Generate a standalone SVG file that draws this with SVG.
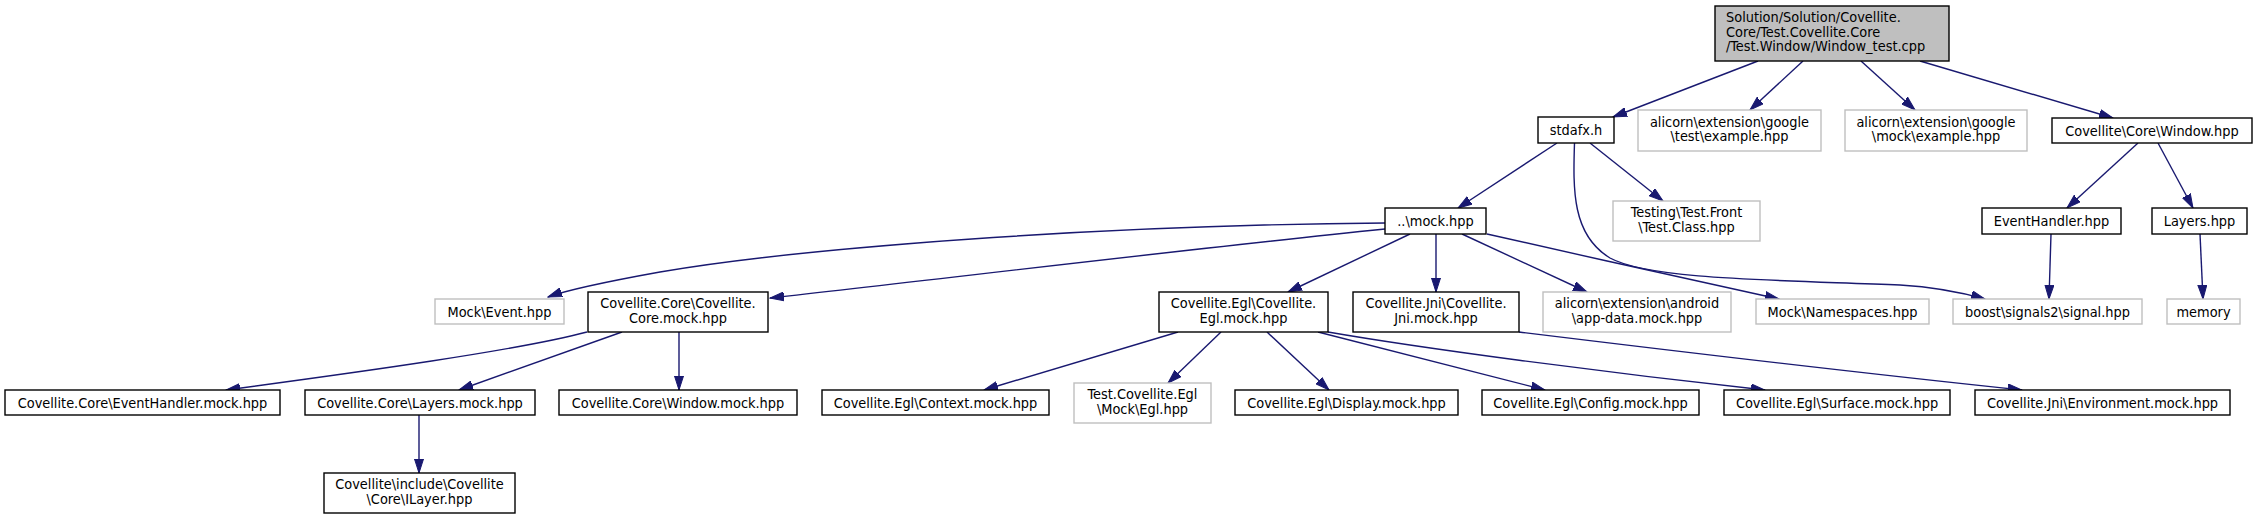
<svg xmlns="http://www.w3.org/2000/svg" width="2257" height="520" viewBox="0 0 2257 520">
<defs>
<marker id="arr" markerWidth="15" markerHeight="10" refX="14" refY="5" orient="auto" markerUnits="userSpaceOnUse"><path d="M0,0.5 L14,5 L0,9.5 z" fill="#191970" stroke="#191970" stroke-width="1"/></marker>
</defs>
<style>
.n rect{fill:#ffffff;stroke:#000000;stroke-width:1.4}
.g rect{fill:#ffffff;stroke:#bfbfbf;stroke-width:1.4}
.r rect{fill:#bfbfbf;stroke:#000000;stroke-width:1.4}
text{font-family:"DejaVu Sans Condensed","DejaVu Sans","Liberation Sans",sans-serif;font-stretch:condensed;font-size:14.4px;fill:#000000;text-anchor:middle}
.r text{text-anchor:start}
#edges path{fill:none;stroke:#191970;stroke-width:1.4;marker-end:url(#arr)}
</style>
<rect width="2257" height="520" fill="#ffffff"/>
<g id="edges">
<path d="M1758,61 L1613,117"/>
<path d="M1803,61 L1750,110"/>
<path d="M1861,61 L1915,110"/>
<path d="M1920,61 L2113,118"/>
<path d="M1557,143 L1458,208"/>
<path d="M1590,143 L1663,201"/>
<path d="M1574.5,143 C1573,190 1572,235 1610,258 C1650,280 1780,280 1900,285 C1935,287 1960,292 1985,299"/>
<path d="M2138,143 L2067,208"/>
<path d="M2158,143 L2193,208"/>
<path d="M2051,234 L2049,299"/>
<path d="M2200,234 L2203,299"/>
<path d="M1385,223 C1100,225 800,248 660,272 C610,281 570,289 548,297"/>
<path d="M1385,229 C1180,250 950,278 770,298"/>
<path d="M1410,234 L1288,292"/>
<path d="M1436,234 L1436,292"/>
<path d="M1462,234 L1587,292"/>
<path d="M1487,234 C1580,255 1700,282 1779,299"/>
<path d="M587,332 C520,350 360,372 226,390"/>
<path d="M622,332 L459,390"/>
<path d="M679,332 L679,390"/>
<path d="M419,415 L419,473"/>
<path d="M1178,332 L984,390"/>
<path d="M1221,332 L1168,383"/>
<path d="M1267,332 L1329,390"/>
<path d="M1318,332 L1545,390"/>
<path d="M1328,332 C1420,348 1600,372 1765,390"/>
<path d="M1519,332 C1650,348 1850,372 2022,390"/>
</g>
<g id="root" class="r"><rect x="1715" y="6" width="234" height="55"/><text x="1726" y="22">Solution/Solution/Covellite.</text><text x="1726" y="36.5">Core/Test.Covellite.Core</text><text x="1726" y="51">/Test.Window/Window_test.cpp</text></g>
<g id="stdafx" class="n"><rect x="1538" y="117" width="76" height="26"/><text x="1576" y="135">stdafx.h</text></g>
<g id="gtest" class="g"><rect x="1638" y="110" width="183" height="41"/><text x="1729.5" y="126.5">alicorn\extension\google</text><text x="1729.5" y="141">\test\example.hpp</text></g>
<g id="gmock" class="g"><rect x="1845" y="110" width="182" height="41"/><text x="1936" y="126.5">alicorn\extension\google</text><text x="1936" y="141">\mock\example.hpp</text></g>
<g id="window" class="n"><rect x="2052" y="118" width="200" height="25"/><text x="2152" y="135.5">Covellite\Core\Window.hpp</text></g>
<g id="mock" class="n"><rect x="1385" y="208" width="101" height="26"/><text x="1435.5" y="226">..\mock.hpp</text></g>
<g id="testing" class="g"><rect x="1613" y="201" width="147" height="40"/><text x="1686.5" y="217">Testing\Test.Front</text><text x="1686.5" y="231.5">\Test.Class.hpp</text></g>
<g id="eventhandler" class="n"><rect x="1982" y="208" width="139" height="26"/><text x="2051.5" y="226">EventHandler.hpp</text></g>
<g id="layers" class="n"><rect x="2152" y="208" width="95" height="26"/><text x="2199.5" y="226">Layers.hpp</text></g>
<g id="mockevent" class="g"><rect x="435" y="299" width="129" height="25"/><text x="499.5" y="316.5">Mock\Event.hpp</text></g>
<g id="coremock" class="n"><rect x="588" y="292" width="180" height="40"/><text x="678" y="308">Covellite.Core\Covellite.</text><text x="678" y="322.5">Core.mock.hpp</text></g>
<g id="eglmock" class="n"><rect x="1159" y="292" width="169" height="40"/><text x="1243.5" y="308">Covellite.Egl\Covellite.</text><text x="1243.5" y="322.5">Egl.mock.hpp</text></g>
<g id="jnimock" class="n"><rect x="1353" y="292" width="166" height="40"/><text x="1436" y="308">Covellite.Jni\Covellite.</text><text x="1436" y="322.5">Jni.mock.hpp</text></g>
<g id="android" class="g"><rect x="1543" y="292" width="188" height="40"/><text x="1637" y="308">alicorn\extension\android</text><text x="1637" y="322.5">\app-data.mock.hpp</text></g>
<g id="namespaces" class="g"><rect x="1756" y="299" width="173" height="25"/><text x="1842.5" y="316.5">Mock\Namespaces.hpp</text></g>
<g id="boost" class="g"><rect x="1953" y="299" width="189" height="25"/><text x="2047.5" y="316.5">boost\signals2\signal.hpp</text></g>
<g id="memory" class="g"><rect x="2167" y="299" width="73" height="25"/><text x="2203.5" y="316.5">memory</text></g>
<g id="ehmock" class="n"><rect x="5" y="390" width="275" height="25"/><text x="142.5" y="407.5">Covellite.Core\EventHandler.mock.hpp</text></g>
<g id="layersmock" class="n"><rect x="305" y="390" width="230" height="25"/><text x="420" y="407.5">Covellite.Core\Layers.mock.hpp</text></g>
<g id="windowmock" class="n"><rect x="559" y="390" width="238" height="25"/><text x="678" y="407.5">Covellite.Core\Window.mock.hpp</text></g>
<g id="context" class="n"><rect x="822" y="390" width="227" height="25"/><text x="935.5" y="407.5">Covellite.Egl\Context.mock.hpp</text></g>
<g id="testegl" class="g"><rect x="1074" y="383" width="137" height="40"/><text x="1142.5" y="399">Test.Covellite.Egl</text><text x="1142.5" y="413.5">\Mock\Egl.hpp</text></g>
<g id="display" class="n"><rect x="1235" y="390" width="223" height="25"/><text x="1346.5" y="407.5">Covellite.Egl\Display.mock.hpp</text></g>
<g id="config" class="n"><rect x="1482" y="390" width="217" height="25"/><text x="1590.5" y="407.5">Covellite.Egl\Config.mock.hpp</text></g>
<g id="surface" class="n"><rect x="1724" y="390" width="226" height="25"/><text x="1837" y="407.5">Covellite.Egl\Surface.mock.hpp</text></g>
<g id="environment" class="n"><rect x="1975" y="390" width="255" height="25"/><text x="2102.5" y="407.5">Covellite.Jni\Environment.mock.hpp</text></g>
<g id="ilayer" class="n"><rect x="324" y="473" width="191" height="40"/><text x="419.5" y="489">Covellite\include\Covellite</text><text x="419.5" y="503.5">\Core\ILayer.hpp</text></g>
</svg>
